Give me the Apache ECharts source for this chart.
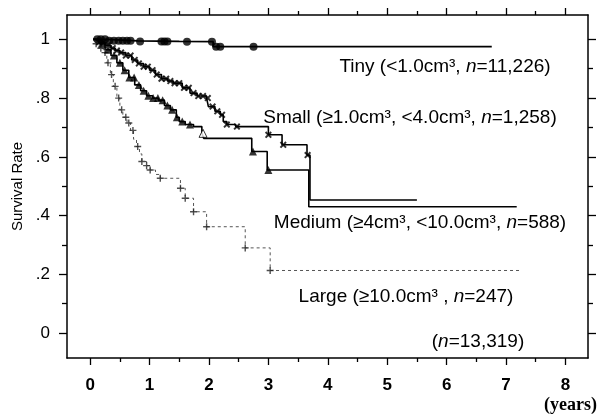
<!DOCTYPE html>
<html>
<head>
<meta charset="utf-8">
<script src="https://cdn.jsdelivr.net/npm/echarts@6/dist/echarts.min.js"></script>
<style>
html, body { margin: 0; padding: 0; background: #fff; }
#main { width: 598px; height: 415px; }
</style>
</head>
<body>
<div id="main"></div>
<script>
// tick positions
var xMajor = [0, 1, 2, 3, 4, 5, 6, 7, 8];
var xMinor = [0.5, 1.5, 2.5, 3.5, 4.5, 5.5, 6.5, 7.5];
var yMajor = [0, 0.2, 0.4, 0.6, 0.8, 1];
var yMinor = [0.1, 0.3, 0.5, 0.7, 0.9];

// Tiny (<1.0cm3) - step points (time in years, survival)
var tinyT = [0.05, 0.3, 0.8, 1.5, 2.07, 6.76];
var tinyS = [1, 0.995, 0.993, 0.992, 0.975, 0.975];
var tinyCens = [0.12, 0.18, 0.25, 0.32, 0.4, 0.48, 0.55, 0.62, 0.68, 0.84, 1.2, 1.25, 1.3, 1.63, 2.05, 2.12, 2.19, 2.75];

// Small (>=1.0cm3, <4.0cm3)
var smallT = [0.05, 0.15, 0.25, 0.35, 0.42, 0.5, 0.6, 0.7, 0.8, 0.9, 1.0, 1.1, 1.2, 1.3, 1.4, 1.55, 1.68, 1.8, 1.96, 1.99, 2.1, 2.19, 2.24, 2.3, 2.45, 3.0, 3.23, 3.65, 3.7, 5.5];
var smallS = [1, 0.99, 0.98, 0.97, 0.962, 0.955, 0.945, 0.93, 0.918, 0.907, 0.895, 0.88, 0.866, 0.858, 0.851, 0.835, 0.817, 0.807, 0.8, 0.771, 0.755, 0.743, 0.72, 0.71, 0.703, 0.675, 0.641, 0.606, 0.453, 0.453];
var smallCens = [0.15, 0.22, 0.3, 0.38, 0.45, 0.52, 0.6, 0.68, 0.75, 0.82, 0.9, 0.97, 1.05, 1.12, 1.2, 1.28, 1.35, 1.42, 1.5, 1.58, 1.66, 1.74, 1.82, 1.9, 1.98, 2.06, 2.14, 2.22, 2.3, 2.47, 3.0, 3.25, 3.66];

// Medium (>=4cm3, <10.0cm3)
var medT = [0.05, 0.15, 0.25, 0.35, 0.45, 0.55, 0.65, 0.75, 0.85, 0.95, 1.05, 1.15, 1.25, 1.35, 1.45, 1.5, 1.6, 1.74, 1.88, 1.91, 2.72, 2.98, 3.68, 7.18];
var medS = [1, 0.985, 0.965, 0.945, 0.92, 0.895, 0.87, 0.845, 0.825, 0.808, 0.8, 0.793, 0.775, 0.76, 0.735, 0.72, 0.71, 0.703, 0.68, 0.663, 0.618, 0.555, 0.43, 0.43];
var medCens = [0.2, 0.3, 0.4, 0.5, 0.58, 0.66, 0.74, 0.82, 0.9, 0.98, 1.06, 1.14, 1.22, 1.3, 1.38, 1.46, 1.55, 1.68, 2.74, 3.0];
var medOpen = [1.9];

// Large (>=10.0cm3)
var largeT = [0.05, 0.1, 0.15, 0.22, 0.28, 0.34, 0.39, 0.45, 0.5, 0.55, 0.62, 0.68, 0.73, 0.78, 0.83, 0.87, 0.95, 1.01, 1.1, 1.18, 1.52, 1.6, 1.74, 1.96, 2.61, 3.03, 7.24];
var largeS = [1, 0.985, 0.97, 0.955, 0.92, 0.88, 0.84, 0.8, 0.76, 0.735, 0.715, 0.69, 0.66, 0.635, 0.61, 0.584, 0.57, 0.555, 0.54, 0.527, 0.493, 0.459, 0.413, 0.362, 0.29, 0.213, 0.213];
var largeCens = [0.1, 0.18, 0.25, 0.3, 0.36, 0.42, 0.48, 0.53, 0.6, 0.65, 0.72, 0.8, 0.87, 0.95, 1.01, 1.18, 1.52, 1.6, 1.74, 1.96, 2.61, 3.03];

var labels = [
	'Tiny (<1.0cm³, {i|n}=11,226)',
	'Small (≥1.0cm³, <4.0cm³, {i|n}=1,258)',
	'Medium (≥4cm³, <10.0cm³, {i|n}=588)',
	'Large (≥10.0cm³ , {i|n}=247)',
	'({i|n}=13,319)'
];

var FONT = '"Liberation Sans", Arial, sans-serif';
var LABEL_SIZE = 19;
var crossPath = 'path://M0,2L2,0L5,3L8,0L10,2L7,5L10,8L8,10L5,7L2,10L0,8L3,5Z';
var plusPath = 'path://M4,0H6V4H10V6H6V10H4V6H0V4H4Z';

function pairs(t, s) {
	var arr = [];
	for (var i = 0; i < t.length; i++) {
		arr.push([t[i], s[i]]);
	}
	return arr;
}

// survival value at time x on a step curve
function stepAt(t, s, x) {
	var v = s[0];
	for (var i = 0; i < t.length; i++) {
		if (t[i] <= x) v = s[i];
	}
	return v;
}

function marks(t, s, cens) {
	var arr = [];
	for (var i = 0; i < cens.length; i++) {
		arr.push([cens[i], stepAt(t, s, cens[i])]);
	}
	return arr;
}

function xAxisOf(pos, vals, len, showLine, showLabel) {
	return {
		type: 'value', position: pos, min: -0.39, max: 8.38,
		axisLine: { show: showLine, onZero: false, lineStyle: { color: '#000', width: 1.5 } },
		axisTick: { show: true, customValues: vals, length: len, inside: false, lineStyle: { color: '#000', width: 1.3 } },
		axisLabel: { show: showLabel, customValues: vals, margin: 19, color: '#000', fontSize: 17, fontWeight: 'bold', fontFamily: FONT },
		splitLine: { show: false }
	};
}

function yAxisOf(pos, vals, len, showLine, showLabel) {
	var ax = {
		type: 'value', position: pos, min: -0.085, max: 1.083,
		axisLine: { show: showLine, onZero: false, lineStyle: { color: '#000', width: 1.5 } },
		axisTick: { show: true, customValues: vals, length: len, inside: false, lineStyle: { color: '#000', width: 1.3 } },
		axisLabel: {
			show: showLabel, customValues: vals, margin: 17, color: '#000', fontSize: 17, fontFamily: FONT,
			formatter: function(v) {
				if (v === 0) return '0';
				if (v === 1) return '1';
				return String(Math.round(v * 10) / 10).replace('0.', '.');
			}
		},
		splitLine: { show: false }
	};
	if (showLabel) {
		ax.name = 'Survival Rate';
		ax.nameLocation = 'middle';
		ax.nameGap = 39;
		ax.nameTextStyle = { color: '#000', fontSize: 15, fontFamily: FONT };
	}
	return ax;
}

function stepLine(name, t, s, width, color, type) {
	return {
		name: name, type: 'line', step: 'end', data: pairs(t, s),
		showSymbol: false, symbol: 'none', z: 3,
		lineStyle: { color: color, width: width, type: type }
	};
}

function censor(name, t, s, cens, symbol, size, fill) {
	return {
		name: name, type: 'scatter', data: marks(t, s, cens),
		symbol: symbol, symbolSize: size, z: 4,
		itemStyle: { color: fill, borderColor: '#000', borderWidth: fill === '#fff' ? 1 : 0 }
	};
}

var rich = { i: { fontStyle: 'italic', fontSize: LABEL_SIZE, fontFamily: FONT, fill: '#000' } };

// text centred on (cx, cy)
function label(text, cx, cy) {
	return {
		type: 'text', z: 10,
		style: {
			text: text, x: cx, y: cy, fontSize: LABEL_SIZE, fontFamily: FONT, fill: '#000', rich: rich,
			textAlign: 'center', align: 'center', textVerticalAlign: 'middle', verticalAlign: 'middle'
		}
	};
}

var myChart = echarts.init(document.getElementById('main'));
var option = {
	animation: false,
	backgroundColor: '#fff',
	grid: { left: 67, right: 10, top: 15, bottom: 57, containLabel: false },
	xAxis: [
		xAxisOf('bottom', xMajor, 7, true, true),
		xAxisOf('bottom', xMinor, 4, false, false),
		xAxisOf('top', xMajor, 7, true, false),
		xAxisOf('top', xMinor, 4, false, false)
	],
	yAxis: [
		yAxisOf('left', yMajor, 8, true, true),
		yAxisOf('left', yMinor, 5, false, false),
		yAxisOf('right', yMajor, 8, true, false),
		yAxisOf('right', yMinor, 5, false, false)
	],
	series: [
		stepLine('Large', largeT, largeS, 1, '#555', [3, 3]),
		censor('LargeCens', largeT, largeS, largeCens, plusPath, 7, '#222'),
		stepLine('Medium', medT, medS, 1.6, '#000', 'solid'),
		censor('MediumCens', medT, medS, medCens, 'triangle', 8, '#000'),
		censor('MediumOpen', medT, medS, medOpen, 'triangle', 8, '#fff'),
		stepLine('Small', smallT, smallS, 1.6, '#000', 'solid'),
		censor('SmallCens', smallT, smallS, smallCens, crossPath, 7, '#000'),
		stepLine('Tiny', tinyT, tinyS, 1.8, '#000', 'solid'),
		censor('TinyCens', tinyT, tinyS, tinyCens, 'circle', 8, '#000')
	],
	graphic: [
		label(labels[0], 445, 67),
		label(labels[1], 410, 118),
		label(labels[2], 420, 223),
		label(labels[3], 406, 297),
		label(labels[4], 478, 342),
		{
			type: 'text', right: 1, top: 396, z: 10,
			style: { text: '(years)', fontSize: 18, fontWeight: 'bold', fontFamily: '"Liberation Serif", "DejaVu Serif", serif', fill: '#000' }
		}
	]
};
myChart.setOption(option);
</script>
</body>
</html>
